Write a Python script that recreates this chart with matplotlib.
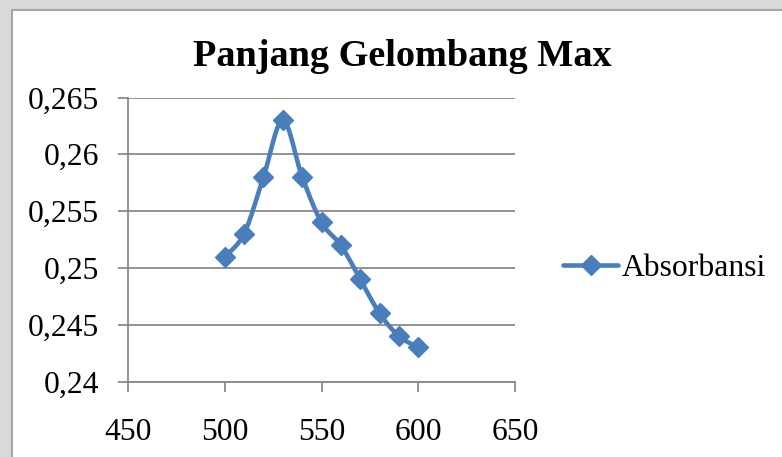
import numpy as np
import matplotlib
matplotlib.use("Agg")
import matplotlib.pyplot as plt
from matplotlib.patches import Rectangle
from matplotlib.lines import Line2D

wavelength = [500, 510, 520, 530, 540, 550, 560, 570, 580, 590, 600]
absorbansi = [0.251, 0.253, 0.258, 0.263, 0.258, 0.254, 0.252, 0.249, 0.246, 0.244, 0.243]
x_ticks = [450, 500, 550, 600, 650]
y_ticks = [0.24, 0.245, 0.25, 0.255, 0.26, 0.265]
y_labels = ["0,24", "0,245", "0,25", "0,255", "0,26", "0,265"]
title = "Panjang Gelombang Max"
series_name = "Absorbansi"

color = "#4a7ebb"
grid_c = "#898989"
W, H = 782, 457
plt.rcParams['font.family'] = ['Liberation Serif', 'DejaVu Serif']

fig = plt.figure(figsize=(W/100, H/100), dpi=100)
fig.patch.set_facecolor("#d9d9d9")
# chart frame
fig.patches.append(Rectangle((12/W, -0.05), 1.2, 1 - 10/H + 0.05, transform=fig.transFigure,
                             facecolor="white", edgecolor="#a6a6a6", linewidth=1.5, zorder=-5))

ax = fig.add_axes([128/W, 1 - 381.5/H, (515-128)/W, (381.5-97.5)/H])
ax.set_facecolor("none")
ax.set_xlim(x_ticks[0], x_ticks[-1])
ax.set_ylim(y_ticks[0], y_ticks[-1])
ax.set_xticks(x_ticks)
ax.set_xticklabels([str(v) for v in x_ticks])
ax.set_yticks(y_ticks)
ax.set_yticklabels(y_labels)
ax.tick_params(axis='both', labelsize=22.8, colors=grid_c, labelcolor='black',
               length=7.2, width=1.3, direction='out')
ax.tick_params(axis='y', pad=13.5)
ax.tick_params(axis='x', pad=19)
ax.grid(axis='y', color=grid_c, linewidth=1.3)
ax.set_axisbelow(True)
for s in ['top', 'right']:
    ax.spines[s].set_visible(False)
for s in ['left', 'bottom']:
    ax.spines[s].set_color(grid_c)
    ax.spines[s].set_linewidth(1.3)

# smooth curve (Catmull-Rom style Bezier, like spreadsheet smoothing) in normalized space
xr = x_ticks[-1] - x_ticks[0]
yr = y_ticks[-1] - y_ticks[0]
px = (np.array(wavelength) - x_ticks[0]) / xr * (515-128)
py = (np.array(absorbansi) - y_ticks[0]) / yr * (381.5-97.5)
P = np.column_stack([px, py])
curve = []
n = len(P)
t = np.linspace(0, 1, 30)
for i in range(n - 1):
    p0 = P[i-1] if i > 0 else P[i]
    p1 = P[i]
    p2 = P[i+1]
    p3 = P[i+2] if i + 2 < n else P[i+1]
    c1 = p1 + (p2 - p0) / 6
    c2 = p2 - (p3 - p1) / 6
    seg = ((1-t)**3)[:, None]*p1 + (3*(1-t)**2*t)[:, None]*c1 + (3*(1-t)*t**2)[:, None]*c2 + (t**3)[:, None]*p2
    curve.append(seg if i == 0 else seg[1:])
curve = np.vstack(curve)
cx = curve[:, 0] / (515-128) * xr + x_ticks[0]
cy = curve[:, 1] / (381.5-97.5) * yr + y_ticks[0]
ax.plot(cx, cy, color=color, linewidth=3.3, solid_capstyle='round', clip_on=False, zorder=3)
ax.plot(wavelength, absorbansi, linestyle='none', marker='D', markersize=10,
        color=color, markeredgecolor=color, clip_on=False, zorder=4)

fig.text(402/W, 1 - 56/H, title, ha='center', va='center', fontsize=27.5, fontweight='bold')

handle = Line2D([], [], color=color, linewidth=3.3, marker='D', markersize=10, solid_capstyle='round')
fig.legend([handle], [series_name], loc='center left', bbox_to_anchor=(563/W, 1 - 268/H),
           frameon=False, fontsize=22.8, handlelength=1.75, handletextpad=0.1, borderpad=0,
           borderaxespad=0)

fig.savefig("out.png", dpi=100, facecolor=fig.get_facecolor())
